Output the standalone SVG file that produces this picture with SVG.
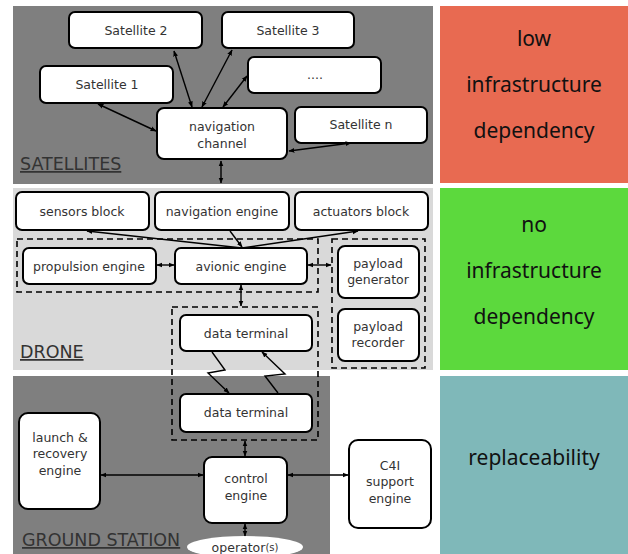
<svg xmlns="http://www.w3.org/2000/svg" width="628" height="554" viewBox="0 0 628 554">
<style>
.node rect{fill:#fff;stroke:#000;stroke-width:2}
.t{font-family:"DejaVu Sans",Verdana,sans-serif;font-size:12.5px;fill:#333;text-anchor:middle;dominant-baseline:central}
.lbl{font-family:"DejaVu Sans",Verdana,sans-serif;font-size:17.5px;fill:#333;text-decoration:underline}
.big{font-family:"Noto Sans","Open Sans",sans-serif;font-size:21px;fill:#111;text-anchor:middle;dominant-baseline:central}
.dash{fill:none;stroke:#000;stroke-width:1.6;stroke-dasharray:6,4}
.c line,.c polyline{stroke:#000;stroke-width:1.4;fill:none}
.bi{marker-start:url(#a);marker-end:url(#a)}
.e{marker-end:url(#a)}
</style>
<defs>
<marker id="a" viewBox="0 0 10 10" refX="9" refY="5" markerWidth="6" markerHeight="6" orient="auto-start-reverse" markerUnits="userSpaceOnUse"><path d="M0,1 L10,5 L0,9 z" fill="#000"/></marker>
</defs>
<rect width="628" height="554" fill="#fff"/>
<!-- panels -->
<rect x="13" y="6" width="420" height="178" fill="#7f7f7f"/>
<rect x="13" y="188" width="420" height="182" fill="#d9d9d9"/>
<rect x="13" y="376" width="317" height="178" fill="#7f7f7f"/>
<rect x="440" y="6" width="188" height="177" fill="#e86a51"/>
<rect x="440" y="188" width="188" height="182" fill="#5cd93d"/>
<rect x="440" y="376" width="188" height="178" fill="#7fb8b9"/>
<g id="right-labels">
<text class="big" x="534" y="38">low</text>
<text class="big" x="534" y="84">infrastructure</text>
<text class="big" x="534" y="130">dependency</text>
<text class="big" x="534" y="224">no</text>
<text class="big" x="534" y="270">infrastructure</text>
<text class="big" x="534" y="316">dependency</text>
<text class="big" x="534" y="457">replaceability</text>
</g>
<text class="lbl" x="20" y="170">SATELLITES</text>
<text class="lbl" x="20" y="358">DRONE</text>
<text class="lbl" x="22" y="546">GROUND STATION</text>
<!-- dashed groups -->
<rect class="dash" x="17" y="239" width="301" height="53"/>
<rect class="dash" x="332" y="239" width="93" height="129"/>
<rect class="dash" x="172" y="307" width="146" height="133"/>
<!-- nodes -->
<g id="sat2" class="node"><rect x="69" y="12" width="133" height="36" rx="6"/><text class="t" x="136" y="30">Satellite 2</text></g>
<g id="sat3" class="node"><rect x="222" y="12" width="132" height="36" rx="6"/><text class="t" x="288" y="30">Satellite 3</text></g>
<g id="sat1" class="node"><rect x="40" y="66" width="133" height="37" rx="6"/><text class="t" x="107" y="84">Satellite 1</text></g>
<g id="satdots" class="node"><rect x="248" y="57" width="133" height="36" rx="6"/><text class="t" x="315" y="74">....</text></g>
<g id="navchannel" class="node"><rect x="157" y="108" width="130" height="51" rx="7"/><text class="t" x="222" y="126">navigation</text><text class="t" x="222" y="143">channel</text></g>
<g id="satn" class="node"><rect x="295" y="107" width="132" height="36" rx="6"/><text class="t" x="361" y="124">Satellite n</text></g>
<g id="sensors" class="node"><rect x="16" y="192" width="133" height="38" rx="6"/><text class="t" x="82" y="211">sensors block</text></g>
<g id="naveng" class="node"><rect x="155" y="192" width="134" height="38" rx="6"/><text class="t" x="222" y="211">navigation engine</text></g>
<g id="actuators" class="node"><rect x="295" y="192" width="133" height="38" rx="6"/><text class="t" x="361" y="211">actuators block</text></g>
<g id="propulsion" class="node"><rect x="23" y="248" width="133" height="36" rx="6"/><text class="t" x="89" y="266">propulsion engine</text></g>
<g id="avionic" class="node"><rect x="175" y="248" width="132" height="36" rx="6"/><text class="t" x="241" y="266">avionic engine</text></g>
<g id="paygen" class="node"><rect x="338" y="246" width="81" height="52" rx="7"/><text class="t" x="378" y="263">payload</text><text class="t" x="378" y="279">generator</text></g>
<g id="payrec" class="node"><rect x="338" y="309" width="81" height="52" rx="7"/><text class="t" x="378" y="326">payload</text><text class="t" x="378" y="342">recorder</text></g>
<g id="dt1" class="node"><rect x="180" y="315" width="132" height="36" rx="6"/><text class="t" x="246" y="333">data terminal</text></g>
<g id="dt2" class="node"><rect x="180" y="394" width="132" height="38" rx="6"/><text class="t" x="246" y="412">data terminal</text></g>
<g id="launch" class="node"><rect x="19" y="413" width="81" height="96" rx="9"/><text class="t" x="60" y="437">launch &amp;</text><text class="t" x="60" y="453">recovery</text><text class="t" x="60" y="470">engine</text></g>
<g id="control" class="node"><rect x="204" y="457" width="83" height="66" rx="8"/><text class="t" x="246" y="478">control</text><text class="t" x="246" y="495">engine</text></g>
<g id="c4i" class="node"><rect x="349" y="440" width="82" height="88" rx="9"/><text class="t" x="390" y="465">C4I</text><text class="t" x="390" y="481">support</text><text class="t" x="390" y="498">engine</text></g>
<g id="operator"><ellipse cx="245" cy="547" rx="58" ry="11" fill="#fff"/><text class="t" x="245" y="547">operator<tspan font-size="10px">(s)</tspan></text></g>
<!-- connectors -->
<g id="connectors" class="c">
<line class="bi" x1="174" y1="51" x2="192" y2="107"/>
<line class="bi" x1="232" y1="50" x2="202" y2="107"/>
<line class="bi" x1="247" y1="76" x2="223" y2="107"/>
<line class="bi" x1="98" y1="104" x2="156" y2="131"/>
<line class="bi" x1="351" y1="143" x2="289" y2="151"/>
<line class="bi" x1="221" y1="161" x2="221" y2="183"/>
<line class="e" x1="242" y1="248" x2="87" y2="231"/>
<line class="e" x1="242" y1="248" x2="358" y2="231"/>
<line class="e" x1="230" y1="231" x2="242" y2="247"/>
<line class="bi" x1="157" y1="265" x2="174" y2="265"/>
<line class="bi" x1="308" y1="265" x2="331" y2="265"/>
<line class="bi" x1="241" y1="285" x2="241" y2="306"/>
<polyline class="e" points="212,352 225,370 208,373 229,393"/>
<polyline marker-start="url(#a)" points="262,352 285,374 265,376 278,393"/>
<line class="bi" x1="101" y1="475" x2="203" y2="475"/>
<line class="bi" x1="288" y1="475" x2="348" y2="475"/>
<line class="bi" x1="245" y1="441" x2="245" y2="456"/>
<line class="bi" x1="245" y1="524" x2="245" y2="536"/>
</g>
</svg>
